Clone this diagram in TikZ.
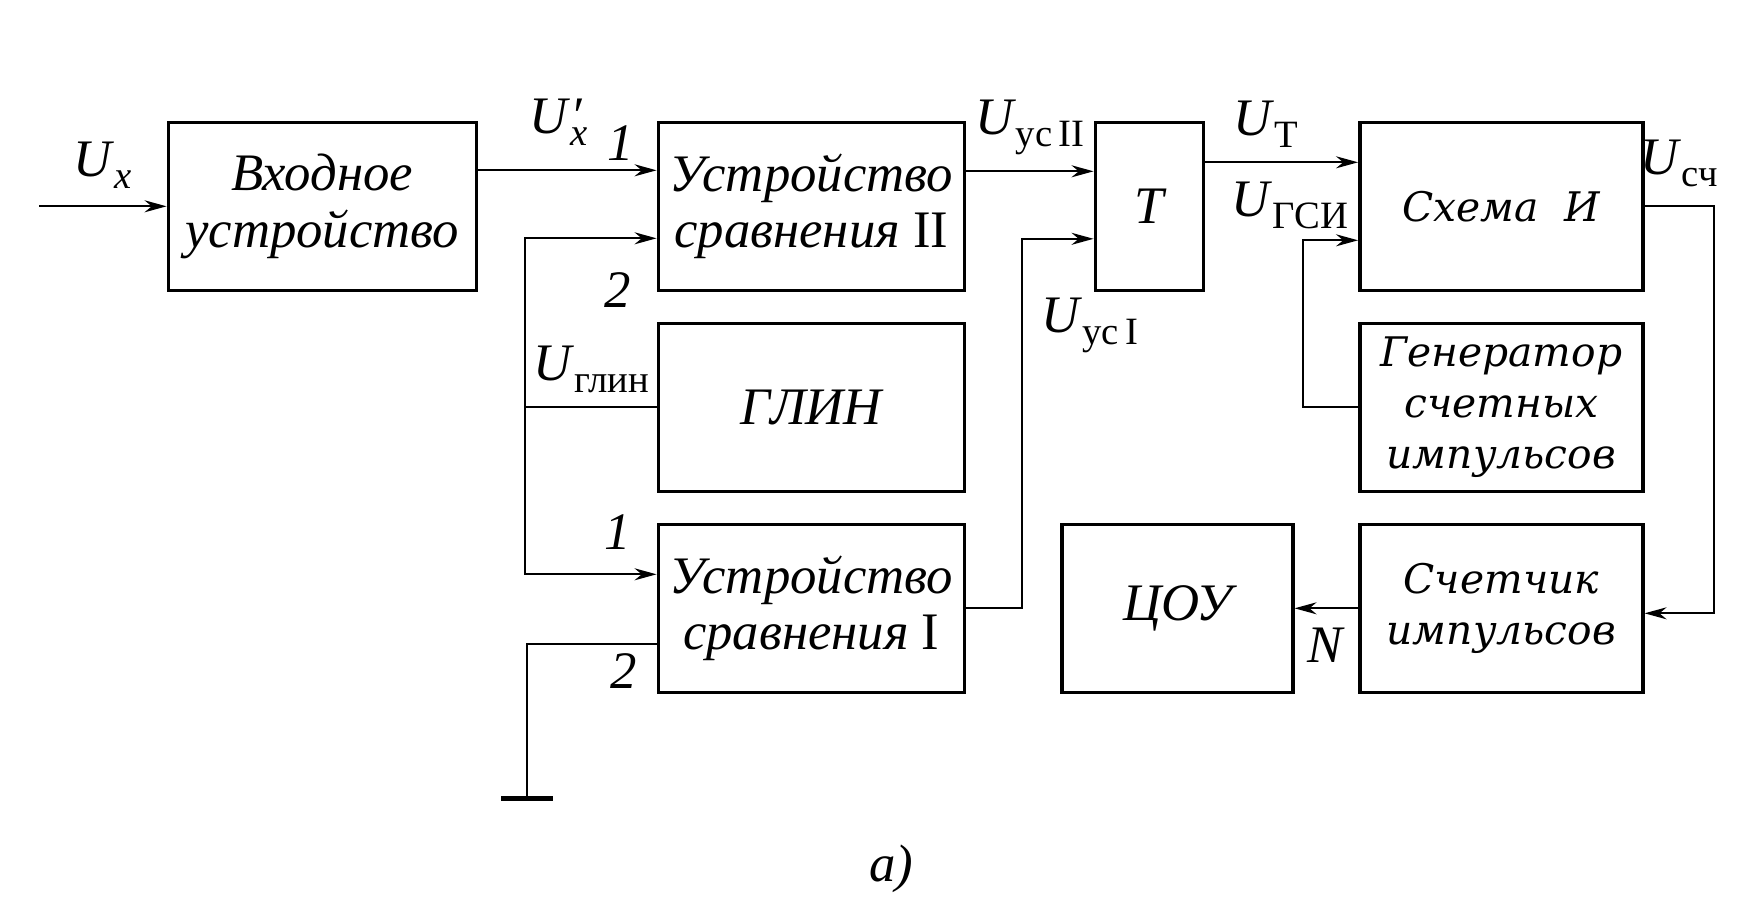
\documentclass[tikz,border=0pt]{standalone}
\usepackage{fontspec}
\setmainfont{Liberation Serif}
\newfontfamily\widefont{DejaVu Serif}
\usetikzlibrary{positioning,arrows.meta}
\newcommand{\volt}[1]{\textit{U}\raisebox{-0.5ex}{\fontsize{11}{11}\selectfont #1}}

\begin{document}
\begin{tikzpicture}[>={Stealth[length=2.2mm,width=1.2mm]}, node distance=2.01cm and 4.89cm, on grid,
    block/.style={draw, line width=1pt, minimum width=3.06cm, minimum height=1.68cm, align=center,
      inner sep=0pt, font=\fontsize{15}{16}\selectfont\itshape},
    wide/.style={block, minimum width=2.83cm, font=\fontsize{11.6}{14.5}\selectfont\widefont\itshape},
    lbl/.style={font=\fontsize{15}{16}\selectfont, inner sep=1pt},
    every path/.style={line width=0.6pt}]
\useasboundingbox (0,0) rectangle (17.58,-9.127);
\node[block, minimum width=3.08cm] (inp) at (3.223,-2.063) {Входное\\устройство};
\node[block, right=of inp] (us2) {Устройство\\сравнения {\upshape II}};
\node[block, below=of us2] (glin) {ГЛИН};
\node[block, below=of glin] (us1) {Устройство\\сравнения {\upshape I}};
\node[block, minimum width=1.08cm, right=3.38cm of us2] (T) {\textit{T}};
\node[wide, right=3.52cm of T] (and) {Схема~~И};
\node[wide, below=of and] (gen) {Генератор\\счетных\\импульсов};
\node[wide, below=of gen] (cnt) {Счетчик\\импульсов};
\node[block, minimum width=2.31cm, left=3.24cm of cnt] (cou) {ЦОУ};

\coordinate (in) at (0.392,-2.063);
\coordinate (bus) at ([xshift=-1.312cm]glin.west);
\coordinate (gnd) at (5.27,-7.983);

\draw[->] (in) -- node[lbl, above, yshift=1.3mm]{\volt{\textit{x}}} (inp);
\draw[->] ([yshift=3.6mm]inp.east) -- node[lbl, above, pos=0.45, yshift=2mm]{\textit{U}\rlap{\textit{′}}\raisebox{-0.5ex}{\fontsize{11}{11}\selectfont\textit{x}}}
  node[lbl, above, pos=0.8, yshift=0.5mm]{\textit{1}} ([yshift=3.6mm]us2.west);
\draw (glin.west) -- node[lbl, above, yshift=1mm]{\volt{глин}} (bus);
\draw[->] (bus) |- node[lbl, below, pos=0.85, yshift=-3mm]{\textit{2}} ([yshift=-3.2mm]us2.west);
\draw[->] (bus) |- node[lbl, above, pos=0.85, yshift=2mm]{\textit{1}} ([yshift=3.4mm]us1.west);
\draw ([yshift=-3.6mm]us1.west) -- node[lbl, below, pos=0.25, yshift=-0.5mm]{\textit{2}} ([yshift=-3.6mm]us1.west -| gnd) -- (gnd);
\draw[line width=1.3pt] ([xshift=-2.6mm]gnd) -- ([xshift=2.6mm]gnd);

\draw[->] ([yshift=3.5mm]us2.east) -- node[lbl, above, yshift=1.2mm]{\volt{ус\,II}} ([yshift=3.5mm]T.west);
\draw[->] (us1.east) -- ++(0.56,0) |- ([yshift=-3.25mm]T.west);
\node[lbl] (lusI) at (10.9,-3.25) {\volt{ус\,I}};

\draw[->] ([yshift=4.4mm]T.east) -- node[lbl, above, pos=0.4, yshift=1mm]{\volt{Т}} ([yshift=4.4mm]and.west);
\draw[->] (gen.west) -- ++(-0.55,0) |- ([yshift=-3.4mm]and.west);
\node[lbl] (lgsi) at (12.9,-2.05) {\volt{ГСИ}};

\draw[->] (and.east) -- node[lbl, above, yshift=1.5mm]{\volt{сч}} ++(0.695,0) |- ([yshift=-0.5mm]cnt.east);
\draw[->] (cnt) -- node[lbl, below, yshift=-1.5mm]{\textit{N}} (cou);

\node[lbl] (cap) at (8.914,-8.69) {\textit{а)}};
\end{tikzpicture}
\end{document}
